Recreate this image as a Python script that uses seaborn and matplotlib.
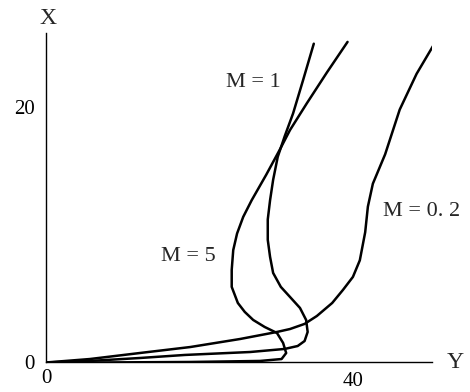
import pandas as pd
import seaborn as sns
import matplotlib.pyplot as plt
from matplotlib.transforms import ScaledTranslation

# values (horizontal axis is "Y", vertical is "X")
m02_y = [50.7, 48.3, 46.1, 44.2, 42.6, 41.95, 41.6, 40.9, 40.0, 38.7, 37.3, 35.3,
         33.7, 31.8, 30.1, 25.3, 18.8, 12.2, 5.7, 0.0]
m02_x = [25.04, 22.6, 19.8, 16.3, 14.0, 12.2, 10.2, 8.0, 6.7, 5.68, 4.66, 3.64,
         3.02, 2.62, 2.39, 1.84, 1.21, 0.74, 0.27, 0.0]

m1_y = [34.9, 33.5, 32.2, 31.1, 30.2, 29.6, 29.2, 28.9, 28.9, 29.2, 29.6, 30.6,
        31.8, 33.1, 33.9, 34.1, 33.7, 32.8, 31.1, 26.6, 18.1, 12.2, 5.7, 0.0]
m1_x = [24.96, 22.1, 19.5, 17.7, 16.1, 14.3, 12.7, 11.2, 9.6, 8.27, 7.01, 5.92,
        5.13, 4.27, 3.33, 2.39, 1.68, 1.29, 1.06, 0.82, 0.59, 0.35, 0.12, 0.0]

m5_y = [39.3, 36.6, 34.0, 31.8, 30.5, 28.7, 26.8, 25.7, 24.9, 24.4, 24.2, 24.2,
        25.0, 25.9, 27.0, 28.5, 30.1, 30.9, 31.3, 30.7, 27.9, 18.8, 7.0, 0.0]
m5_x = [25.1, 22.7, 20.3, 18.2, 16.7, 14.7, 12.7, 11.4, 10.1, 8.8, 7.25, 5.92,
        4.66, 3.96, 3.33, 2.78, 2.31, 1.53, 0.74, 0.27, 0.12, 0.04, 0.0, 0.0]

labels = ['M = 0. 2', 'M = 1', 'M = 5']

df = pd.concat([
    pd.DataFrame({'Y': m02_y, 'X': m02_x, 'M': labels[0]}),
    pd.DataFrame({'Y': m1_y, 'X': m1_x, 'M': labels[1]}),
    pd.DataFrame({'Y': m5_y, 'X': m5_x, 'M': labels[2]}),
])

sns.set_theme(style='white')
plt.rcParams['font.family'] = ['Liberation Serif', 'DejaVu Serif']

fig = plt.figure(figsize=(4.7, 3.92), dpi=100)
ax = fig.add_axes([0.098, 0.0753, 0.821, 0.8406])

sns.lineplot(data=df, x='Y', y='X', hue='M', sort=False, estimator=None,
             palette={l: 'black' for l in labels}, linewidth=1.8,
             legend=False, ax=ax)

ax.set_xlim(0, 50.3)
ax.set_ylim(0, 25.8)
ax.set_xticks([0, 40])
ax.set_xticklabels(['0', '40'])
ax.set_yticks([0, 20])
ax.set_yticklabels(['0', '20'])
ax.tick_params(direction='in', length=5, width=1.3, color='black',
               labelsize=15, labelcolor='black')
ax.tick_params(axis='x', pad=5)
ax.tick_params(axis='y', pad=8)
# the "40" sits lower than the "0" in the original
lab40 = ax.get_xticklabels()[1]
lab40.set_transform(lab40.get_transform() + ScaledTranslation(0, -3 / 100, fig.dpi_scale_trans))

ax.set_xlabel('')
ax.set_ylabel('')
sns.despine(ax=ax)
for s in ['left', 'bottom']:
    ax.spines[s].set_color('black')
    ax.spines[s].set_linewidth(1.0)

ax.text(0.005, 1.045, 'X', transform=ax.transAxes, ha='center', va='center', fontsize=17)
ax.text(1.06, 0.0, 'Y', transform=ax.transAxes, ha='center', va='center', fontsize=17)

ax.text(27.0, 21.9, labels[1], ha='center', va='center', fontsize=16)
ax.text(18.6, 8.27, labels[2], ha='center', va='center', fontsize=16)
ax.text(48.9, 11.8, labels[0], ha='center', va='center', fontsize=16, clip_on=False)

fig.savefig('out.png', dpi=100)
